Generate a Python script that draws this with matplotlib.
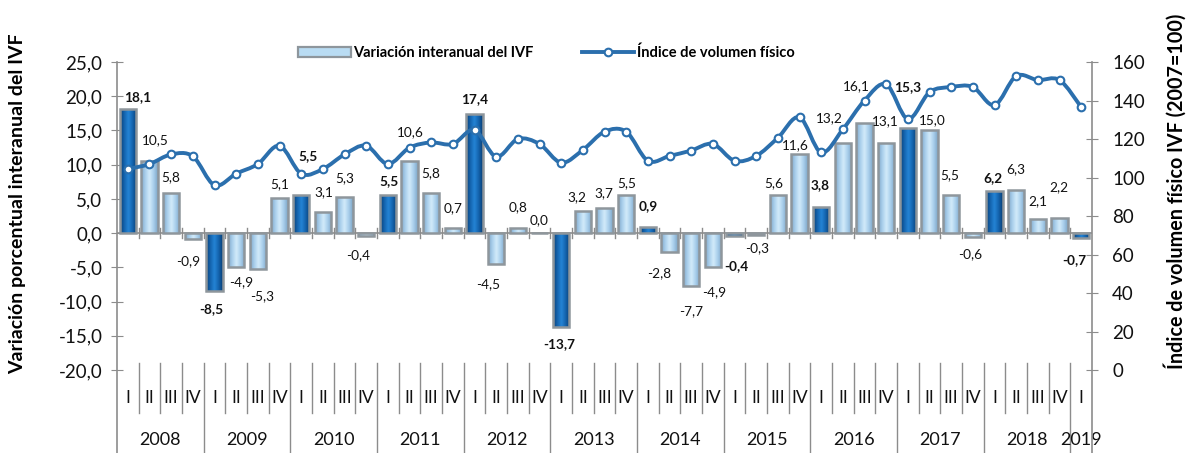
import numpy as np
import matplotlib
matplotlib.use("Agg")
import matplotlib.pyplot as plt
from matplotlib.path import Path
from matplotlib.patches import PathPatch, Patch
from matplotlib.lines import Line2D
from matplotlib.colors import LinearSegmentedColormap

plt.rcParams['font.family'] = ['Lato', 'DejaVu Sans']

# ---------------- data ----------------
years = ["2008", "2009", "2010", "2011", "2012", "2013", "2014", "2015",
         "2016", "2017", "2018", "2019"]
quarters = ["I", "II", "III", "IV"]
variacion = [18.1, 10.5, 5.8, -0.9,
             -8.5, -4.9, -5.3, 5.1,
             5.5, 3.1, 5.3, -0.4,
             5.5, 10.6, 5.8, 0.7,
             17.4, -4.5, 0.8, 0.0,
             -13.7, 3.2, 3.7, 5.5,
             0.9, -2.8, -7.7, -4.9,
             -0.4, -0.3, 5.6, 11.6,
             3.8, 13.2, 16.1, 13.1,
             15.3, 15.0, 5.5, -0.6,
             6.2, 6.3, 2.1, 2.2,
             -0.7]
indice = [104.4, 107.0, 112.0, 111.0,
          96.0, 102.0, 107.0, 116.5,
          102.0, 104.4, 112.0, 116.5,
          107.0, 115.5, 118.2, 117.4,
          124.7, 110.8, 120.0, 117.4,
          107.7, 114.3, 123.8, 123.8,
          108.7, 111.2, 114.0, 117.4,
          108.7, 111.2, 120.6, 131.3,
          113.0, 125.0, 140.0, 148.4,
          130.4, 144.3, 147.0, 147.0,
          137.6, 152.7, 150.6, 150.6,
          136.6]
left_ticks = [-20, -15, -10, -5, 0, 5, 10, 15, 20, 25]
right_ticks = [0, 20, 40, 60, 80, 100, 120, 140, 160]

# label nudges (pixels) relative to bar end
label_dx = [10, 6, 0, -5, -3, 5, 4, 0, 7, 1, 0, -8, 1, 1, 0, 0, 0, -8, 0, 0,
            -2, -6, -1, 1, 0, -10, 0, 1, 2, 1, -4, -4, -1, -13, -8, -1, 0, 3,
            -1, -3, -2, 0, 0, -1, -7]
label_dy = [12, 21, 16, -22, -18, -16, -27, 14, 39, 20, 19, -19, 14, 28, 20, 20,
            15, -20, 20, 13, -17, 14, 15, 12, 21, -21, -25, -26, -30, -13, 12,
            9, 22, 25, 37, 22, 41, 10, 20, -17, 13, 21, 18, 31, -22]

n = len(variacion)
x = np.arange(n)
is_q1 = [i % 4 == 0 for i in range(n)]

W, H = 1189, 453
fig = plt.figure(figsize=(W / 100, H / 100), dpi=100)
ax = fig.add_axes([117 / W, 0, (1092 - 117) / W, (H - 62) / H])
ax2 = ax.twinx()

LOW_L = -32.13
LOW_R = -43.1
gray = "#8c8c8c"

# ---------------- bars ----------------
light_cmap = LinearSegmentedColormap.from_list(
    "lb", ["#7ea6c6", "#a9cfec", "#d3ebfa", "#a9cfec", "#7ea6c6"])
dark_cmap = LinearSegmentedColormap.from_list(
    "db", ["#093f75", "#1463ad", "#2585d6", "#1463ad", "#093f75"])
bw = 0.74
bars = ax.bar(x, variacion, width=bw, color=["#1567b3" if q else "#a9cfec" for q in is_q1],
              edgecolor="none", zorder=2)
grad = np.linspace(0, 1, 64).reshape(1, -1)
for rect, q in zip(bars, is_q1):
    x0, y0 = rect.get_x(), rect.get_y()
    w, h = rect.get_width(), rect.get_height()
    if h == 0:
        continue
    im = ax.imshow(grad, extent=[x0, x0 + w, min(y0, y0 + h), max(y0, y0 + h)],
                   aspect="auto", cmap=dark_cmap if q else light_cmap,
                   zorder=2.1, interpolation="bicubic")
    im.set_clip_path(rect)
ax.bar(x, variacion, width=bw, fill=False, edgecolor="#8e969c", linewidth=1.8, zorder=2.2)

# data labels
for i, v in enumerate(variacion):
    lab = f"{v:.1f}".replace(".", ",")
    ax.annotate(lab, (x[i], v), xytext=(label_dx[i], label_dy[i]),
                textcoords="offset pixels", ha="center", va="center",
                fontsize=9.8, color="#111111",
                fontweight="bold" if is_q1[i] else "normal", zorder=5)

# ---------------- category axis ----------------
ax.plot([-0.5, n - 0.5], [0, 0], color=gray, lw=1.2, zorder=1.9)
for b in np.arange(0.5, n - 0.5, 1.0):
    ax.plot([b, b], [-0.75, 0.75], color=gray, lw=1.0, zorder=1.9)
    is_year = (int(b + 0.5) % 4 == 0)
    ax.plot([b, b], [-18.98, LOW_L if is_year else -26.28], color=gray, lw=1.0,
            clip_on=False)
for i in range(n):
    ax.text(x[i], -24.09, quarters[i % 4], ha="center", va="center", fontsize=12.5,
            color="#111111")
for k, yr in enumerate(years):
    idx = [i for i in range(n) if i // 4 == k]
    cx = (idx[0] + idx[-1]) / 2
    ax.text(cx, -30.23, yr, ha="center", va="center", fontsize=13, color="#111111")

# ---------------- line ----------------
pts = np.column_stack([x, indice]).astype(float)
verts = [tuple(pts[0])]
codes = [Path.MOVETO]
for i in range(n - 1):
    p0 = pts[i - 1] if i > 0 else pts[i]
    p1 = pts[i]
    p2 = pts[i + 1]
    p3 = pts[i + 2] if i + 2 < n else pts[i + 1]
    c1 = p1 + (p2 - p0) / 6.0
    c2 = p2 - (p3 - p1) / 6.0
    verts += [tuple(c1), tuple(c2), tuple(p2)]
    codes += [Path.CURVE4] * 3
line_color = "#2b6fad"
ax2.add_patch(PathPatch(Path(verts, codes), facecolor="none", edgecolor=line_color,
                        lw=2.8, zorder=3, capstyle="round", joinstyle="round"))
ax2.plot(x, indice, linestyle="none", marker="o", markersize=5.5,
         markerfacecolor="white", markeredgecolor=line_color, markeredgewidth=1.5,
         zorder=4)

# ---------------- axes styling ----------------
ax.set_xlim(-0.5, n - 0.5)
ax.set_ylim(LOW_L, 25)
ax2.set_ylim(LOW_R, 160)
ax.set_yticks(left_ticks)
ax.set_yticklabels([f"{t:.1f}".replace(".", ",") for t in left_ticks], fontsize=13.5)
ax2.set_yticks(right_ticks)
ax2.set_yticklabels([str(t) for t in right_ticks], fontsize=13.5)
ax.set_xticks([])
for a in (ax, ax2):
    for s in ("top", "bottom"):
        a.spines[s].set_visible(False)
    a.patch.set_visible(False)
ax.spines["right"].set_visible(False)
ax2.spines["left"].set_visible(False)
ax.spines["left"].set_color(gray)
ax2.spines["right"].set_color(gray)
ax.spines["left"].set_linewidth(1.2)
ax2.spines["right"].set_linewidth(1.2)
ax.tick_params(axis="y", direction="inout", length=9, color=gray, pad=6,
               labelcolor="#111111")
ax2.tick_params(axis="y", direction="inout", length=9, color=gray, pad=10,
                labelcolor="#111111")

fig.text(18 / W, 1 - 204 / H, "Variación porcentual interanual del IVF",
         rotation=90, ha="center", va="center", fontsize=14, fontweight="bold")
fig.text(1175 / W, 1 - 191 / H, "Índice de volumen físico IVF (2007=100)",
         rotation=90, ha="center", va="center", fontsize=14.2, fontweight="bold")

# ---------------- legend ----------------
handles = [Patch(facecolor="#b9dcf3", edgecolor="#8e969c", linewidth=1.6),
           Line2D([0], [0], color=line_color, lw=2.8, marker="o", markersize=5.5,
                  markerfacecolor="white", markeredgecolor=line_color,
                  markeredgewidth=1.5)]
fig.legend(handles, ["Variación interanual del IVF", "Índice de volumen físico"],
           loc="center left", bbox_to_anchor=(298 / W, 1 - 53 / H), ncol=2,
           frameon=False, borderpad=0, borderaxespad=0, handlelength=3.6,
           handletextpad=0.2, columnspacing=3.3, prop={"weight": "bold", "size": 10.5})

fig.savefig("out.png", dpi=100)
